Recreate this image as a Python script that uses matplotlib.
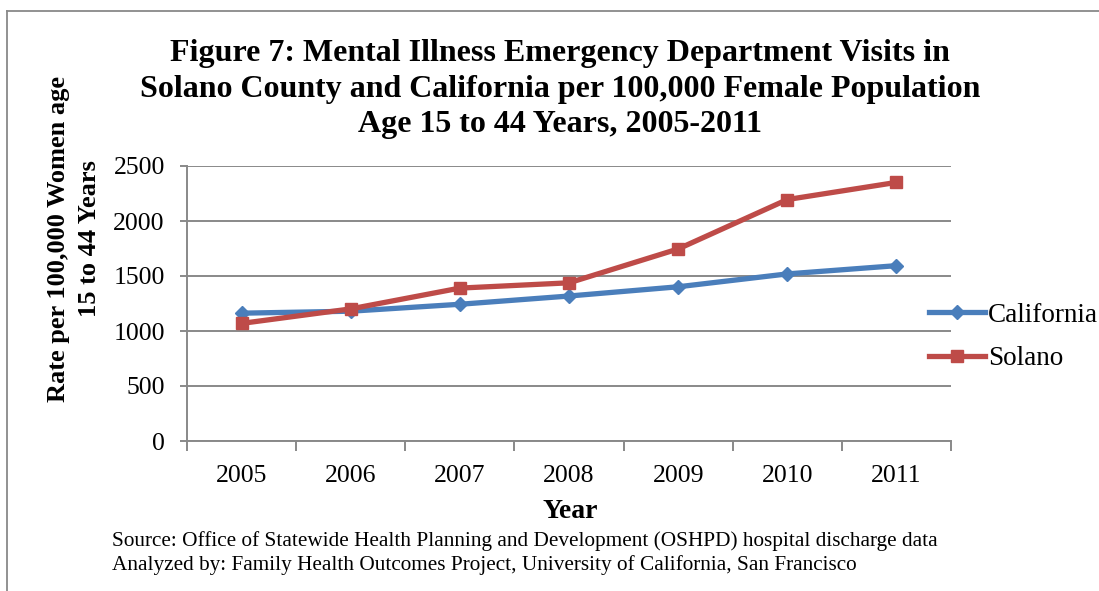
import matplotlib
matplotlib.use("Agg")
import matplotlib.pyplot as plt
from matplotlib.lines import Line2D

plt.rcParams["font.family"] = ["Liberation Serif", "DejaVu Serif"]

years = ["2005", "2006", "2007", "2008", "2009", "2010", "2011"]
california = [1162, 1180, 1243, 1318, 1402, 1519, 1594]
solano = [1069, 1201, 1390, 1438, 1746, 2195, 2351]
y_ticks = [0, 500, 1000, 1500, 2000, 2500]

BLUE = "#4a7ebb"
RED = "#be4b48"
GRID = "#898989"
W, H = 1099, 591

fig = plt.figure(figsize=(W / 100, H / 100), dpi=100)
ax = fig.add_axes([187 / W, 1 - 441 / H, 764 / W, 275 / H])

x = list(range(len(years)))
ax.plot(x, california, color=BLUE, lw=3.8, marker="D", ms=7, mec=BLUE, mfc=BLUE,
        label="California", solid_capstyle="round")
ax.plot(x, solano, color=RED, lw=3.8, marker="s", ms=9, mec=RED, mfc=RED,
        label="Solano", solid_capstyle="round")

ax.set_xlim(-0.5, len(years) - 0.5)
ax.set_ylim(0, 2500)
ax.set_yticks(y_ticks)
ax.set_yticklabels([str(v) for v in y_ticks], fontsize=18.5)
# tick marks sit between categories, labels at category centres
ax.set_xticks([i - 0.5 for i in range(len(years) + 1)])
ax.set_xticklabels([])
ax.set_xticks(x, minor=True)
ax.set_xticklabels(years, minor=True, fontsize=18.5)
ax.tick_params(axis="x", which="major", length=7, color=GRID, width=1.4)
ax.tick_params(axis="x", which="minor", length=0, pad=17)
ax.tick_params(axis="y", length=5, color=GRID, width=1.4, pad=11)

ax.grid(axis="y", color=GRID, lw=1.4)
ax.set_axisbelow(True)
for s in ["top", "right"]:
    ax.spines[s].set_visible(False)
for s in ["left", "bottom"]:
    ax.spines[s].set_color(GRID)
    ax.spines[s].set_linewidth(1.4)

fig.text(570 / W, 1 - 512 / H, "Year", ha="center", va="center",
         fontsize=20, fontweight="bold")
fig.text(74 / W, 1 - 239 / H, "Rate per 100,000 Women age\n15 to 44 Years",
         rotation=90, ha="center", va="center", fontsize=19, fontweight="bold",
         linespacing=1.4)

fig.text(560 / W, 1 - 89 / H,
         "Figure 7: Mental Illness Emergency Department Visits in\n"
         "Solano County and California per 100,000 Female Population\n"
         "Age 15 to 44 Years, 2005-2011",
         ha="center", va="center", fontsize=23, fontweight="bold", linespacing=1.3)

handles = [Line2D([], [], color=BLUE, lw=3.8, marker="D", ms=7),
           Line2D([], [], color=RED, lw=3.8, marker="s", ms=9)]
fig.legend(handles, ["California", "Solano"], loc="center left",
           bbox_to_anchor=(929 / W, 1 - 337 / H), frameon=False,
           fontsize=19.5, handlelength=2.07, handletextpad=0.12,
           labelspacing=0.68, borderaxespad=0, borderpad=0)

fig.text(112 / W, 1 - 541 / H,
         "Source: Office of Statewide Health Planning and Development (OSHPD) hospital discharge data",
         ha="left", va="center", fontsize=15.3)
fig.text(112 / W, 1 - 565 / H,
         "Analyzed by: Family Health Outcomes Project, University of California, San Francisco",
         ha="left", va="center", fontsize=15.3)

# outer frame (top and left edges visible in the original)
fig.add_artist(Line2D([7 / W, 1], [1 - 11 / H, 1 - 11 / H], color=GRID, lw=1.3))
fig.add_artist(Line2D([7 / W, 7 / W], [0, 1 - 11 / H], color=GRID, lw=1.3))

fig.savefig("out.png", dpi=100)
